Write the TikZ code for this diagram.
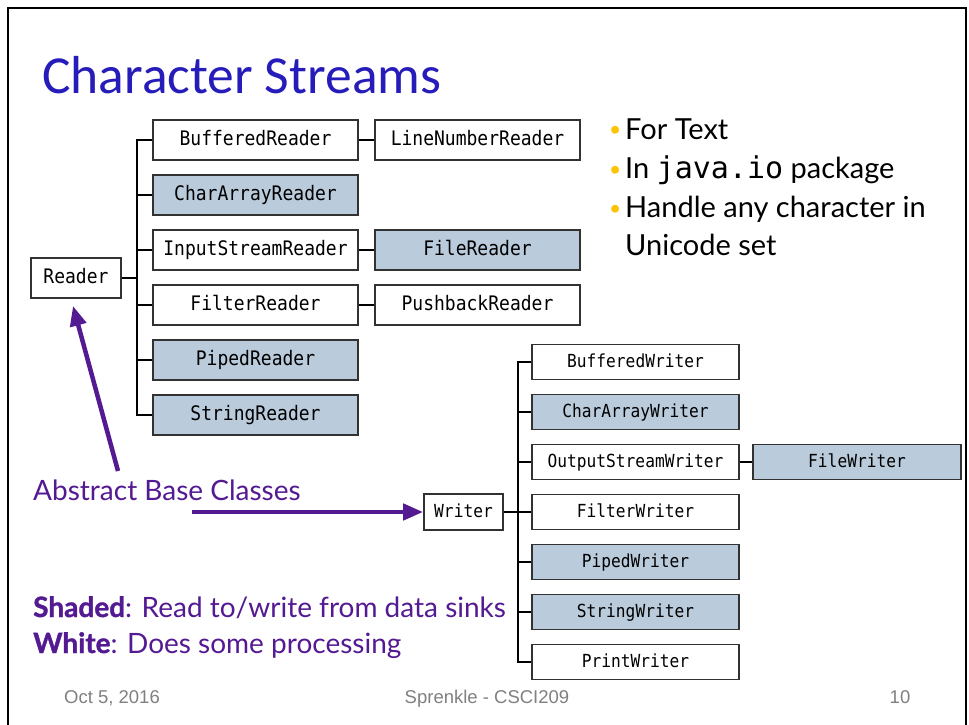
\documentclass[tikz,border=0pt]{standalone}
\usepackage{fontspec}
\setmainfont{Lato}
\newfontfamily\titlefont{Carlito}
\newfontfamily\boxfont[FakeStretch=0.9]{DejaVu Sans Mono}
\newfontfamily\codefont{DejaVu Sans Mono}
\newfontfamily\footfont{Liberation Sans}
\newfontfamily\heavyfont[FakeBold=1.2]{Lato}
\usetikzlibrary{arrows.meta}
\definecolor{titleblue}{RGB}{38,28,186}
\definecolor{purp}{RGB}{84,26,146}
\definecolor{shadeblue}{RGB}{186,203,220}
\definecolor{boxborder}{RGB}{50,50,50}
\definecolor{bulletgold}{RGB}{252,196,0}
\definecolor{footgray}{RGB}{128,128,128}
\tikzset{
  rbox/.style={draw=boxborder, fill=white, line width=1.7pt, minimum width=205pt, minimum height=40pt, inner sep=0pt, text height=14pt, text depth=3pt, font=\boxfont\fontsize{20}{20}\selectfont},
  wbox/.style={draw=boxborder, fill=white, line width=1.7pt, minimum width=207pt, minimum height=35pt, inner sep=0pt, text height=12.5pt, text depth=2.5pt, font=\boxfont\fontsize{18}{18}\selectfont},
  shaded/.style={fill=shadeblue},
  tree/.style={line width=1.5pt, black},
  bigarrow/.style={draw=purp, line width=4.5pt, -{Triangle[length=20pt,width=16pt]}},
  bullettxt/.style={anchor=base west, inner sep=0pt, font=\fontsize{29}{29}\selectfont},
  purptxt/.style={anchor=base west, inner sep=0pt, text=purp, font=\fontsize{28}{28}\selectfont},
  foottxt/.style={anchor=base, inner sep=0pt, text=footgray, font=\footfont\fontsize{18.5}{18.5}\selectfont},
}
\newcommand{\gbul}{\llap{\textcolor{bulletgold}{\raisebox{2pt}{\fontsize{21}{21}\selectfont\textbullet}}\hspace{4pt}}}
\begin{document}
\begin{tikzpicture}[x=1pt,y=-1pt]
\useasboundingbox (0,0) rectangle (969,725);
\fill[white] (0,0) rectangle (969,725);
% slide frame
\draw[line width=2pt, black] (8,725) -- (8,8) -- (966,8) -- (966,725);

% title
\node[anchor=base west, inner sep=0pt, text=titleblue, font=\titlefont\fontsize{53.5}{53.5}\selectfont] (title) at (42,93) {Character Streams};

% bullets
\node[bullettxt] (b1) at (625,139) {\gbul For Text};
\node[bullettxt] (b2) at (625,178) {\gbul In {\codefont\fontsize{30}{30}\selectfont java.io} package};
\node[bullettxt] (b3) at (625,217) {\gbul Handle any character in};
\node[bullettxt] (b4) at (625,255) {Unicode set};

% Reader hierarchy
\node[rbox, minimum width=90pt] (R) at (76,278) {Reader};
\node[rbox] (BR)  at (255.5,140) {BufferedReader};
\node[rbox, shaded] (CAR) at (255.5,195) {CharArrayReader};
\node[rbox] (ISR) at (255.5,250) {InputStreamReader};
\node[rbox] (FR)  at (255.5,305) {FilterReader};
\node[rbox, shaded] (PR)  at (255.5,360) {PipedReader};
\node[rbox, shaded] (SR)  at (255.5,415) {StringReader};
\node[rbox] (LNR) at (477.5,140) {LineNumberReader};
\node[rbox, shaded] (FiR) at (477.5,250) {FileReader};
\node[rbox] (PBR) at (477.5,305) {PushbackReader};
\foreach \c in {BR,CAR,ISR,FR,PR,SR}
  \draw[tree] (R.east) -- ++(15,0) |- (\c.west);
\draw[tree] (BR.east) -- (LNR.west);
\draw[tree] (ISR.east) -- (FiR.west);
\draw[tree] (FR.east) -- (PBR.west);

% Writer hierarchy
\node[wbox, minimum width=79pt, minimum height=36pt] (W) at (463.5,512) {Writer};
\node[wbox] (BW)  at (635.5,362) {BufferedWriter};
\node[wbox, shaded] (CAW) at (635.5,412) {CharArrayWriter};
\node[wbox] (OSW) at (635.5,462) {OutputStreamWriter};
\node[wbox] (FW)  at (635.5,512) {FilterWriter};
\node[wbox, shaded] (PW)  at (635.5,562) {PipedWriter};
\node[wbox, shaded] (SW)  at (635.5,612) {StringWriter};
\node[wbox] (PrW) at (635.5,662) {PrintWriter};
\node[wbox, shaded, minimum width=208pt] (FiW) at (857,462) {FileWriter};
\foreach \c in {BW,CAW,OSW,FW,PW,SW,PrW}
  \draw[tree] (W.east) -- ++(14,0) |- (\c.west);
\draw[tree] (OSW.east) -- (FiW.west);

% annotations
\node[purptxt] (abc) at (33,500) {Abstract Base Classes};
\coordinate (t1) at (118,471);
\coordinate (t2) at (192,512);
\draw[bigarrow] (t1) -- ([xshift=-3pt,yshift=-7pt]R.south);
\draw[bigarrow] (t2) -- (W.west);

\node[purptxt] (sh) at (33,617) {{\heavyfont\bfseries Shaded}: Read to/write from data sinks};
\node[purptxt] (wh) at (33,653) {{\heavyfont\bfseries White}: Does some processing};

% footer
\node[foottxt] (f1) at (112,703) {Oct 5, 2016};
\node[foottxt] (f2) at (487,703) {Sprenkle - CSCI209};
\node[foottxt] (f3) at (900,703) {10};
\end{tikzpicture}
\end{document}
